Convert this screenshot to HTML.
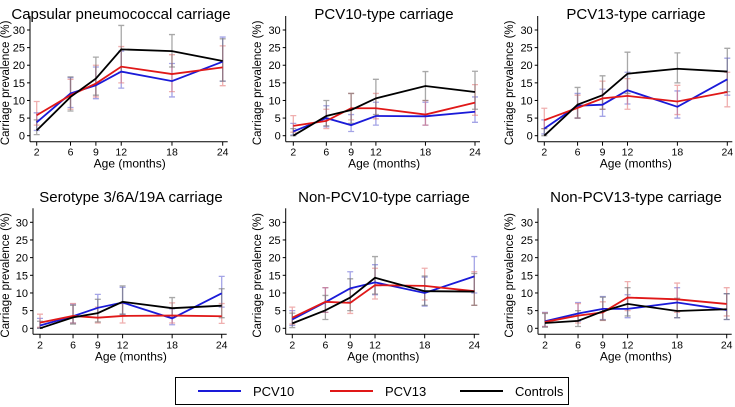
<!DOCTYPE html>
<html><head><meta charset="utf-8">
<style>
body{margin:0;background:#fff;width:735px;height:407px;overflow:hidden;font-family:"Liberation Sans",sans-serif}
svg{display:block}
</style></head>
<body>
<svg id="c" width="735" height="407" xmlns="http://www.w3.org/2000/svg">
<g>
<rect x="175.5" y="377.5" width="393" height="27" fill="#fff" stroke="#000" stroke-width="1"/>
<line x1="198" y1="391" x2="241" y2="391" stroke="#1a1ad8" stroke-width="2"/>
<text x="253" y="396" font-size="13">PCV10</text>
<line x1="330" y1="391" x2="373" y2="391" stroke="#e01818" stroke-width="2"/>
<text x="385" y="396" font-size="13">PCV13</text>
<line x1="460" y1="391" x2="503" y2="391" stroke="#000" stroke-width="2"/>
<text x="515" y="396" font-size="13">Controls</text>
</g>
</svg>
<script>
const ages=[2,6,9,12,18,24];
const yTicks=[0,5,10,15,20,25,30];
const titles=["Capsular pneumococcal carriage","PCV10-type carriage","PCV13-type carriage","Serotype 3/6A/19A carriage","Non-PCV10-type carriage","Non-PCV13-type carriage"];
const pcv10Vals=[[3.8,12,14.3,18.2,15.5,21],[1.2,5,3,5.6,5.5,6.8],[2,8.5,8.8,12.9,8.2,16],[0.8,3.4,5.8,7.3,2.8,9.9],[2.5,7.4,11.3,13,10,14.7],[2,4.2,5.5,5.5,7.3,5.2]];
const pcv10Lo=[[1.5,8,10.5,13.5,11,15.5],[0.2,2.5,1.2,3,3,3.8],[0.5,5,5.5,9,5,11.5],[0.1,1.5,3,4,1,6],[0.8,4.5,7.5,9.5,6.3,10],[0.5,2,2.5,3,3,2.5]];
const pcv10Hi=[[6.5,16.5,19.5,24,20.5,28],[3.5,8.5,6,9.5,9.5,11],[4.5,12,13.2,18,12.7,22],[2.8,6.8,9.6,11.6,5.5,14.7],[5,11.5,16,18,14.5,20.3],[4.5,7.3,9,9.5,11.5,9.8]];
const pcv13Vals=[[5.8,11.5,14.8,19.6,17.5,19.4],[2.8,4.2,7.8,7.8,6,9.4],[4.4,7.9,10.6,11.3,9.7,12.4],[1.6,3.5,3,3.5,3.6,3.4],[3,7.5,7.2,12.2,12,10.5],[1.8,3.6,4.5,8.7,8.2,6.9]];
const pcv13Lo=[[3,7.5,11,15,12.5,14.2],[1,2,4.5,4.8,3,5.8],[2,5,7.5,7.5,6,8.2],[0.3,1.5,1.5,1.5,1.5,1.4],[1.2,4.5,4.2,8.3,8,6.5],[0.5,1.5,2.2,5,4.5,3.5]];
const pcv13Hi=[[9.7,16,20,25.3,23,25.5],[5.7,7.5,12,12,10,14.5],[7.8,11.5,15.5,16.2,14.3,18],[4,7,6,7,7.2,7],[6,11.5,11,17,17,16],[4.4,7,7.5,13.2,12.8,11.5]];
const ctrlVals=[[1.5,11,16.2,24.5,24,21.2],[0,5.6,7.3,10.6,14.1,12.4],[0,8.8,11.5,17.6,19,18.2],[0,3.1,4.3,7.5,5.7,6.4],[1.4,5.1,8.7,14.3,10.5,10.4],[1.5,2.1,4.8,6.9,4.9,5.4]];
const ctrlLo=[[0.3,7,11.5,18,19.5,15.5],[0,2.8,3.5,6,10,7.5],[0,5,7.5,12,15,12.5],[0,1.2,1.8,4,3,3],[0.2,2.5,5,9.7,6.5,6.5],[0.3,0.5,2.3,3.5,3,2.5]];
const ctrlHi=[[4.5,16.7,22.3,31.3,28.7,27.5],[2,10,12,16,18.2,18.3],[2,13.7,17,23.7,23.5,24.8],[2,6.5,8.2,12,8.7,11.2],[4.3,9.3,14,20.3,14.8,15.5],[4.2,5,8.8,11.5,8.5,9.8]];

const layout=[
 {ax:30,x0:36.7,x1:222.7,y0:135.7,y30:30,tx:121,ty:19,yl:5},
 {ax:285.7,x0:293.3,x1:475,y0:135.7,y30:30,tx:384,ty:19,yl:257},
 {ax:537.7,x0:544.3,x1:727.3,y0:135.7,y30:30,tx:636,ty:19,yl:509},
 {ax:33,x0:40,x1:221.7,y0:328.3,y30:222.3,tx:131,ty:202,yl:5},
 {ax:285.7,x0:292.3,x1:474.3,y0:328.3,y30:222.3,tx:384,ty:202,yl:257},
 {ax:538,x0:545,x1:726.7,y0:328.3,y30:222.3,tx:636,ty:202,yl:509}
];
const NS="http://www.w3.org/2000/svg";
const svg=document.getElementById('c');
function mk(tag,attrs,parent){const e=document.createElementNS(NS,tag);for(const k in attrs)e.setAttribute(k,attrs[k]);parent.appendChild(e);return e;}
const series=[
 {name:'pcv10',vals:pcv10Vals,lo:pcv10Lo,hi:pcv10Hi,col:'#1a1ad8',ebar:'rgba(90,90,210,0.55)'},
 {name:'pcv13',vals:pcv13Vals,lo:pcv13Lo,hi:pcv13Hi,col:'#e01818',ebar:'rgba(225,110,110,0.55)'},
 {name:'controls',vals:ctrlVals,lo:ctrlLo,hi:ctrlHi,col:'#000',ebar:'rgba(110,110,110,0.6)'}
];
layout.forEach((L,p)=>{
 const g=mk('g',{},svg);
 
 
 const xs=a=>L.x0+(a-2)/22*(L.x1-L.x0);
 const ys=v=>L.y0+(v/30)*(L.y30-L.y0);
 const t=mk('text',{x:L.tx,y:L.ty,'font-size':15,'text-anchor':'middle'},g);t.textContent=titles[p];
 
 
 const axB=L.y0+6, topY=L.y30-14;
 const ya=mk('line',{x1:L.ax,y1:topY,x2:L.ax,y2:axB,stroke:'#000','stroke-width':1},g);
 
 
 const xa=mk('line',{x1:L.ax,y1:axB,x2:L.x1+5,y2:axB,stroke:'#000','stroke-width':1},g);
 
 
 yTicks.forEach(v=>{
  mk('line',{x1:L.ax-3,y1:ys(v),x2:L.ax,y2:ys(v),stroke:'#000'},g);
  const tl=mk('text',{x:L.ax-5,y:ys(v)+4,'font-size':11,'text-anchor':'end'},g);tl.textContent=v;
  
  
 });
 ages.forEach(a=>{
  mk('line',{x1:xs(a),y1:axB,x2:xs(a),y2:axB+4,stroke:'#000'},g);
  const tl=mk('text',{x:xs(a),y:axB+14,'font-size':10.5,'text-anchor':'middle'},g);tl.textContent=a;
  
  
 });
 const xt=mk('text',{x:(L.x0+L.x1)/2,y:axB+26,'font-size':12,'text-anchor':'middle'},g);xt.textContent='Age (months)';
 
 
 const yc=(L.y0+L.y30)/2;
 const yt=mk('text',{x:L.yl,y:yc,'font-size':11.5,'text-anchor':'middle',transform:`rotate(-90 ${L.yl} ${yc})`,dy:'4'},g);yt.textContent='Carriage prevalence (%)';
 
 
 series.forEach(s=>{
  ages.forEach((a,i)=>{
   const x=xs(a),y1=ys(s.lo[p][i]),y2=ys(s.hi[p][i]);
   const eb=mk('path',{d:`M${x},${y1}V${y2}M${x-3},${y1}H${x+3}M${x-3},${y2}H${x+3}`,stroke:s.ebar,'stroke-width':1.3,fill:'none'},g);
   
   
  });
 });
 series.forEach(s=>{
  const pts=ages.map((a,i)=>xs(a)+','+ys(s.vals[p][i])).join(' ');
  const pl=mk('polyline',{points:pts,fill:'none',stroke:s.col,'stroke-width':1.8},g);
  
  
 });
});
</script>
</body></html>
